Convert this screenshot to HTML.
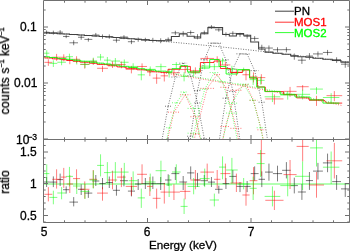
<!DOCTYPE html>
<html><head><meta charset="utf-8"><style>
html,body{margin:0;padding:0;background:#fff;width:350px;height:251px;overflow:hidden}
#w{position:relative;width:350px;height:251px;overflow:hidden}
svg{position:absolute;left:0;top:0}
.t{position:absolute;will-change:transform;font-family:"Liberation Sans",sans-serif;font-size:12px;line-height:1;white-space:nowrap;color:#000;-webkit-text-stroke:0.3px currentColor}
.r{text-align:right}
.c{transform:translateX(-50%)}
.sup{font-size:8.6px;position:relative;top:-4.2px}
.sup2{font-size:7px;position:relative;top:-4.6px}
.rot{transform:translate(-100%,-50%) rotate(-90deg) translate(50%,0);transform-origin:100% 50%}
</style></head><body><div id="w">
<svg width="350" height="251" viewBox="0 0 350 251" shape-rendering="auto">
<defs><clipPath id="ctop"><rect x="43.5" y="0.5" width="306" height="139"/></clipPath><clipPath id="cbot"><rect x="43.5" y="139.5" width="306" height="83"/></clipPath></defs>
<path d="M43.80,32.72 L46.60,32.88 L53.35,33.28 L60.15,33.69 L66.20,34.07 L73.70,34.55 L81.20,35.04 L88.35,35.52 L95.80,36.04 L102.50,36.52 L109.30,37.02 L116.45,37.55 L123.95,38.13 L131.45,38.72 L138.20,39.27 L145.35,39.86 L152.85,40.49 L160.70,41.17 L168.20,41.83 L175.35,42.48 L183.20,43.20 L190.70,43.91 L197.50,44.56 L204.30,45.23 L211.45,45.94 L218.80,46.69 L225.95,47.43 L232.85,48.16 L240.00,48.93 L247.15,49.71 L254.65,50.54 L261.80,51.35 L268.95,52.17 L277.50,53.17 L286.40,54.23 L294.30,55.18 L301.90,56.12 L309.45,57.07 L317.95,58.15 L327.55,59.39 L336.60,60.59 L345.25,61.75 L349.50,62.33" stroke="#000000" stroke-width="1" stroke-opacity="0.55" fill="none" stroke-dasharray="1 1.5" clip-path="url(#ctop)"/>
<path d="M44.40,57.50 L48.35,57.94 L56.60,58.86 L63.75,59.68 L69.80,60.38 L76.55,61.19 L84.75,62.18 L93.25,63.24 L102.50,64.42 L112.50,65.74 L121.40,66.93 L131.40,68.31 L142.05,69.82 L149.85,70.94 L156.65,71.95 L164.30,73.09 L173.95,74.57 L185.15,76.32 L195.40,77.96 L207.20,79.90 L217.20,81.58 L225.40,82.98 L236.40,84.90 L246.00,86.61 L253.50,87.97 L261.35,89.42 L274.40,91.87 L290.05,94.88 L302.65,97.37 L316.50,100.17 L334.35,103.88 L342.20,105.55" stroke="#ff0000" stroke-width="1" stroke-opacity="0.55" fill="none" stroke-dasharray="1 1.5" clip-path="url(#ctop)"/>
<path d="M44.10,56.47 L46.75,56.76 L53.35,57.49 L61.60,58.43 L69.45,59.34 L76.75,60.21 L85.00,61.22 L93.30,62.25 L100.55,63.17 L107.35,64.06 L115.35,65.12 L124.30,66.33 L133.15,67.56 L141.30,68.71 L150.25,70.00 L160.95,71.59 L169.15,72.83 L176.30,73.93 L184.10,75.15 L193.65,76.68 L204.70,78.48 L214.35,80.10 L222.55,81.49 L231.90,83.11 L243.65,85.19 L253.15,86.91 L260.65,88.29 L272.45,90.50 L287.70,93.42 L302.60,96.36 L316.50,99.17 L331.15,102.21 L339.40,103.95" stroke="#00ff00" stroke-width="1" stroke-opacity="0.55" fill="none" stroke-dasharray="1 1.5" clip-path="url(#ctop)"/>
<path d="M165.00,106.23H171.40M171.40,77.06H179.30M179.30,63.20H187.10M187.10,75.96H194.30M194.30,102.89H200.70M200.70,138.68H207.90M160.70,146.85L168.20,106.23M168.20,106.23L175.35,77.06M175.35,77.06L183.20,63.20M183.20,63.20L190.70,75.96M190.70,75.96L197.50,102.89M197.50,102.89L204.30,138.68M204.30,138.68L211.45,182.62" stroke="#000000" stroke-width="1" stroke-opacity="0.55" fill="none" stroke-dasharray="1 1.5" clip-path="url(#ctop)"/>
<path d="M187.10,136.26H194.30M194.30,90.56H200.70M200.70,59.66H207.90M207.90,43.13H215.00M215.00,43.19H222.60M222.60,59.84H229.30M229.30,91.41H236.40M183.20,203.82L190.70,136.26M190.70,136.26L197.50,90.56M197.50,90.56L204.30,59.66M204.30,59.66L211.45,43.13M211.45,43.13L218.80,43.19M218.80,43.19L225.95,59.84M225.95,59.84L232.85,91.41M232.85,91.41L240.00,140.20" stroke="#000000" stroke-width="1" stroke-opacity="0.55" fill="none" stroke-dasharray="1 1.5" clip-path="url(#ctop)"/>
<path d="M222.60,98.20H229.30M229.30,69.01H236.40M236.40,53.84H243.60M243.60,54.00H250.70M250.70,70.65H258.60M258.60,102.23H265.00M218.80,143.51L225.95,98.20M225.95,98.20L232.85,69.01M232.85,69.01L240.00,53.84M240.00,53.84L247.15,54.00M247.15,54.00L254.65,70.65M254.65,70.65L261.80,102.23M261.80,102.23L268.95,149.16" stroke="#000000" stroke-width="1" stroke-opacity="0.55" fill="none" stroke-dasharray="1 1.5" clip-path="url(#ctop)"/>
<path d="M168.00,112.16H179.90M179.90,94.77H190.40M190.40,116.72H200.40M164.30,152.96L173.95,112.16M173.95,112.16L185.15,94.77M185.15,94.77L195.40,116.72M195.40,116.72L207.20,171.71" stroke="#ff0000" stroke-width="1" stroke-opacity="0.55" fill="none" stroke-dasharray="1 1.5" clip-path="url(#ctop)"/>
<path d="M190.40,133.99H200.40M200.40,88.36H214.00M214.00,74.59H220.40M220.40,87.28H230.40M230.40,128.32H242.40M185.15,189.27L195.40,133.99M195.40,133.99L207.20,88.36M207.20,88.36L217.20,74.59M217.20,74.59L225.40,87.28M225.40,87.28L236.40,128.32M236.40,128.32L246.00,178.49" stroke="#ff0000" stroke-width="1" stroke-opacity="0.55" fill="none" stroke-dasharray="1 1.5" clip-path="url(#ctop)"/>
<path d="M220.40,126.53H230.40M230.40,90.31H242.40M242.40,84.61H249.60M249.60,100.31H257.40M257.40,129.80H265.30M217.20,166.42L225.40,126.53M225.40,126.53L236.40,90.31M236.40,90.31L246.00,84.61M246.00,84.61L253.50,100.31M253.50,100.31L261.35,129.80M261.35,129.80L274.40,198.07" stroke="#ff0000" stroke-width="1" stroke-opacity="0.55" fill="none" stroke-dasharray="1 1.5" clip-path="url(#ctop)"/>
<path d="M166.30,127.71H172.00M172.00,102.79H180.60M180.60,92.00H187.60M187.60,108.39H199.70M160.95,168.37L169.15,127.71M169.15,127.71L176.30,102.79M176.30,102.79L184.10,92.00M184.10,92.00L193.65,108.39M193.65,108.39L204.70,155.64" stroke="#00ff00" stroke-width="1" stroke-opacity="0.55" fill="none" stroke-dasharray="1 1.5" clip-path="url(#ctop)"/>
<path d="M187.60,133.19H199.70M199.70,89.21H209.70M209.70,72.58H219.00M219.00,81.91H226.10M226.10,113.06H237.70M184.10,184.62L193.65,133.19M193.65,133.19L204.70,89.21M204.70,89.21L214.35,72.58M214.35,72.58L222.55,81.91M222.55,81.91L231.90,113.06M231.90,113.06L243.65,171.65" stroke="#00ff00" stroke-width="1" stroke-opacity="0.55" fill="none" stroke-dasharray="1 1.5" clip-path="url(#ctop)"/>
<path d="M226.10,103.16H237.70M237.70,84.08H249.60M249.60,100.27H256.70M256.70,127.75H264.60M222.55,140.39L231.90,103.16M231.90,103.16L243.65,84.08M243.65,84.08L253.15,100.27M253.15,100.27L260.65,127.75M260.65,127.75L272.45,187.71" stroke="#00ff00" stroke-width="1" stroke-opacity="0.55" fill="none" stroke-dasharray="1 1.5" clip-path="url(#ctop)"/>
<line x1="43.50" y1="184.00" x2="349.50" y2="184.00" stroke="#00ff00" stroke-width="1.1" stroke-opacity="0.6"/>
<path d="M43.80,32.25L49.40,32.25M46.60,30.46L46.60,34.18M49.40,32.68L57.30,32.68M53.35,30.65L53.35,34.61M57.30,32.18L63.00,32.18M60.15,30.12L60.15,34.59M63.00,36.47L69.40,36.47M66.20,35.12L66.20,38.17M69.40,42.81L78.00,42.81M73.70,40.28L73.70,45.23M78.00,37.27L84.40,37.27M81.20,35.27L81.20,39.78M84.40,39.40L92.30,39.40M88.35,38.05L88.35,41.64M92.30,35.04L99.30,35.04M95.80,32.94L95.80,36.93M99.30,36.48L105.70,36.48M102.50,34.44L102.50,38.75M105.70,36.57L112.90,36.57M109.30,34.42L109.30,38.71M112.90,40.21L120.00,40.21M116.45,38.06L116.45,42.62M120.00,37.02L127.90,37.02M123.95,35.19L123.95,39.18M127.90,41.72L135.00,41.72M131.45,39.62L131.45,44.12M135.00,39.38L141.40,39.38M138.20,37.54L138.20,41.79M141.40,39.82L149.30,39.82M145.35,37.77L145.35,41.96M149.30,40.41L156.40,40.41M152.85,37.85L152.85,42.56M156.40,40.66L165.00,40.66M160.70,38.27L160.70,43.23M165.00,39.43L171.40,39.43M168.20,37.46L168.20,41.69M171.40,32.83L179.30,32.83M175.35,30.78L175.35,35.03M179.30,33.36L187.10,33.36M183.20,31.23L183.20,36.53M187.10,32.50L194.30,32.50M190.70,30.47L190.70,34.68M194.30,36.63L200.70,36.63M197.50,34.20L197.50,39.29M200.70,32.59L207.90,32.59M204.30,30.59L204.30,34.59M207.90,27.00L215.00,27.00M211.45,25.17L211.45,28.89M215.00,29.83L222.60,29.83M218.80,28.38L218.80,31.70M222.60,34.36L229.30,34.36M225.95,32.32L225.95,36.51M229.30,33.37L236.40,33.37M232.85,31.27L232.85,35.70M236.40,34.45L243.60,34.45M240.00,32.80L240.00,36.83M243.60,36.35L250.70,36.35M247.15,34.29L247.15,38.73M250.70,38.43L258.60,38.43M254.65,36.17L254.65,40.89M258.60,47.38L265.00,47.38M261.80,44.72L261.80,50.33M265.00,48.04L272.90,48.04M268.95,45.45L268.95,50.99M272.90,49.73L282.10,49.73M277.50,47.26L277.50,52.44M282.10,49.67L290.70,49.67M286.40,47.21L286.40,52.36M290.70,56.44L297.90,56.44M294.30,53.52L294.30,59.71M297.90,60.19L305.90,60.19M301.90,56.95L301.90,63.92M305.90,56.05L313.00,56.05M309.45,53.11L309.45,59.69M313.00,53.92L322.90,53.92M317.95,51.44L317.95,56.75M322.90,52.44L332.20,52.44M327.55,49.91L327.55,55.27M332.20,59.61L341.00,59.61M336.60,57.29L336.60,62.89M341.00,64.17L349.50,64.17M345.25,61.84L345.25,67.73" stroke="#000000" stroke-width="1" stroke-opacity="0.5" fill="none" clip-path="url(#ctop)"/>
<path d="M43.80,182.00L49.40,182.00M46.60,177.00L46.60,187.00M49.40,182.10L57.30,182.10M53.35,176.40L53.35,187.10M57.30,179.60L63.00,179.60M60.15,173.60L60.15,186.00M63.00,189.70L69.40,189.70M66.20,186.40L66.20,193.60M69.40,202.10L78.00,202.10M73.70,197.10L73.70,206.40M78.00,189.30L84.40,189.30M81.20,184.30L81.20,195.00M84.40,193.10L92.30,193.10M88.35,190.00L88.35,197.90M92.30,181.00L99.30,181.00M95.80,175.00L95.80,186.00M99.30,183.60L105.70,183.60M102.50,178.00L102.50,189.30M105.70,182.50L112.90,182.50M109.30,176.50L109.30,188.00M112.90,190.30L120.00,190.30M116.45,185.00L116.45,195.70M120.00,180.70L127.90,180.70M123.95,175.50L123.95,186.40M127.90,191.10L135.00,191.10M131.45,186.00L131.45,196.40M135.00,184.00L141.40,184.00M138.20,179.00L138.20,190.00M141.40,183.60L149.30,183.60M145.35,178.00L145.35,189.00M149.30,183.60L156.40,183.60M152.85,176.50L152.85,189.00M156.40,183.60L165.00,183.60M160.70,177.00L160.70,190.00M165.00,180.00L171.40,180.00M168.20,174.30L168.20,186.00M171.40,173.60L179.30,173.60M175.35,167.10L175.35,180.00M179.30,182.00L187.10,182.00M183.20,176.00L183.20,190.00M187.10,172.90L194.30,172.90M190.70,166.40L190.70,179.30M194.30,180.00L200.70,180.00M197.50,172.90L197.50,187.00M200.70,180.70L207.90,180.70M204.30,175.00L204.30,186.00M207.90,182.10L215.00,182.10M211.45,177.00L211.45,187.00M215.00,189.30L222.60,189.30M218.80,185.70L218.80,193.60M222.60,183.60L229.30,183.60M225.95,178.00L225.95,189.00M229.30,176.40L236.40,176.40M232.85,170.00L232.85,182.90M236.40,186.40L243.60,186.40M240.00,182.10L240.00,192.10M243.60,186.40L250.70,186.40M247.15,181.00L247.15,192.10M250.70,173.60L258.60,173.60M254.65,166.40L254.65,180.70M258.60,179.30L265.00,179.30M261.80,171.40L261.80,187.10M265.00,172.10L272.90,172.10M268.95,163.60L268.95,180.70M272.90,173.60L282.10,173.60M277.50,165.70L277.50,181.40M282.10,170.30L290.70,170.30M286.40,162.10L286.40,178.40M290.70,185.60L297.90,185.60M294.30,177.70L294.30,193.40M297.90,192.00L305.90,192.00M301.90,184.10L301.90,199.90M305.90,180.60L313.00,180.60M309.45,172.00L309.45,189.90M313.00,171.10L322.90,171.10M317.95,162.90L317.95,179.50M322.90,162.90L332.20,162.90M327.55,153.60L327.55,172.20M332.20,181.60L341.00,181.60M336.60,175.00L336.60,189.90M341.00,188.90L349.50,188.90M345.25,183.00L345.25,196.90" stroke="#000000" stroke-width="1" stroke-opacity="0.5" fill="none" clip-path="url(#cbot)"/>
<path d="M44.40,62.35L52.30,62.35M48.35,59.27L48.35,65.83M52.30,57.24L60.90,57.24M56.60,53.91L56.60,60.80M60.90,57.29L66.60,57.29M63.75,54.30L63.75,61.33M66.60,60.50L73.00,60.50M69.80,57.28L69.80,64.21M73.00,59.32L80.10,59.32M76.55,56.24L76.55,63.13M80.10,64.42L89.40,64.42M84.75,61.33L84.75,68.65M89.40,61.62L97.10,61.62M93.25,58.52L93.25,64.94M97.10,68.30L107.90,68.30M102.50,65.76L102.50,71.96M107.90,64.37L117.10,64.37M112.50,61.23L112.50,67.97M117.10,64.54L125.70,64.54M121.40,61.56L121.40,68.27M125.70,69.36L137.10,69.36M131.40,65.89L131.40,73.38M137.10,66.48L147.00,66.48M142.05,63.36L142.05,69.93M147.00,71.97L152.70,71.97M149.85,68.50L149.85,76.13M152.70,78.12L160.60,78.12M156.65,73.74L156.65,83.82M160.60,75.83L168.00,75.83M164.30,72.10L164.30,81.49M168.00,72.73L179.90,72.73M173.95,69.53L173.95,76.47M179.90,69.53L190.40,69.53M185.15,65.76L185.15,73.22M190.40,70.73L200.40,70.73M195.40,67.37L195.40,74.33M200.40,58.44L214.00,58.44M207.20,55.85L207.20,61.39M214.00,59.38L220.40,59.38M217.20,56.27L217.20,62.94M220.40,64.93L230.40,64.93M225.40,61.85L225.40,68.46M230.40,72.24L242.40,72.24M236.40,68.93L236.40,75.89M242.40,74.74L249.60,74.74M246.00,71.05L246.00,80.28M249.60,76.89L257.40,76.89M253.50,72.38L253.50,82.42M257.40,77.61L265.30,77.61M261.35,74.21L261.35,84.23M265.30,98.93L283.50,98.93M274.40,94.43L274.40,104.51M283.50,91.36L296.60,91.36M290.05,86.92L290.05,96.71M296.60,86.71L308.70,86.71M302.65,85.11L302.65,90.62M309.00,100.40L324.00,100.40M316.50,95.81L316.50,105.92M326.50,95.65L342.20,95.65M334.35,91.08L334.35,101.20" stroke="#ff0000" stroke-width="1" stroke-opacity="0.5" fill="none" clip-path="url(#ctop)"/>
<path d="M44.40,194.30L52.30,194.30M48.35,187.10L48.35,201.40M52.30,179.30L60.90,179.30M56.60,169.30L56.60,188.60M60.90,177.10L66.60,177.10M63.75,167.90L63.75,187.90M66.60,184.00L73.00,184.00M69.80,175.00L69.80,193.00M73.00,178.60L80.10,178.60M76.55,169.30L76.55,188.60M80.10,189.30L89.40,189.30M84.75,181.40L84.75,198.60M89.40,179.30L97.10,179.30M93.25,170.00L93.25,188.00M97.10,193.10L107.90,193.10M102.50,187.10L102.50,200.70M107.90,180.00L117.10,180.00M112.50,170.70L112.50,189.30M117.10,177.10L125.70,177.10M121.40,167.90L121.40,187.10M125.70,186.40L137.10,186.40M131.40,177.00L131.40,195.70M137.10,174.30L147.00,174.30M142.05,164.30L142.05,184.00M147.00,186.40L152.70,186.40M149.85,177.00L149.85,196.00M152.70,198.30L160.60,198.30M156.65,188.60L156.65,208.60M160.60,192.10L168.00,192.10M164.30,182.90L164.30,203.60M168.00,192.10L179.90,192.10M173.95,184.30L173.95,200.00M179.90,191.40L190.40,191.40M185.15,182.00L185.15,199.30M190.40,180.00L200.40,180.00M195.40,170.00L195.40,189.30M200.40,172.10L214.00,172.10M207.20,163.60L207.20,180.70M214.00,179.30L220.40,179.30M217.20,170.00L217.20,188.60M220.40,173.60L230.40,173.60M225.40,163.60L225.40,183.60M230.40,183.00L242.40,183.00M236.40,173.60L236.40,192.00M242.40,195.00L249.60,195.00M246.00,186.40L246.00,205.70M249.60,180.70L257.40,180.70M253.50,167.10L253.50,194.30M257.40,153.60L265.30,153.60M261.35,139.50L261.35,176.00M265.30,200.30L283.50,200.30M274.40,190.70L274.40,210.00M283.50,174.60L296.60,174.60M290.05,160.00L290.05,189.00M296.60,146.40L308.70,146.40M302.65,139.50L302.65,161.40M309.00,185.00L324.00,185.00M316.50,172.00L316.50,197.70M326.50,160.80L342.20,160.80M334.35,142.90L334.35,178.50" stroke="#ff0000" stroke-width="1" stroke-opacity="0.5" fill="none" clip-path="url(#cbot)"/>
<path d="M44.10,53.19L49.40,53.19M46.75,50.31L46.75,56.50M49.40,63.37L57.30,63.37M53.35,60.32L53.35,66.97M57.30,62.26L65.90,62.26M61.60,59.76L61.60,65.24M65.90,56.71L73.00,56.71M69.45,53.66L69.45,60.39M73.00,61.11L80.50,61.11M76.75,58.49L76.75,64.49M80.50,64.34L89.50,64.34M85.00,61.33L85.00,67.88M89.50,60.88L97.10,60.88M93.30,57.68L93.30,64.19M97.10,57.05L104.00,57.05M100.55,53.96L100.55,60.54M104.00,60.16L110.70,60.16M107.35,56.97L107.35,64.02M110.70,61.06L120.00,61.06M115.35,58.03L115.35,64.52M120.00,62.27L128.60,62.27M124.30,59.47L124.30,66.29M128.60,66.44L137.70,66.44M133.15,63.27L133.15,70.08M137.70,74.83L144.90,74.83M141.30,70.65L141.30,80.30M144.90,69.34L155.60,69.34M150.25,66.41L150.25,73.10M155.60,66.63L166.30,66.63M160.95,63.66L160.95,70.54M166.30,72.40L172.00,72.40M169.15,68.79L169.15,77.58M172.00,64.51L180.60,64.51M176.30,62.15L176.30,68.56M180.60,76.39L187.60,76.39M184.10,72.17L184.10,81.35M187.60,72.95L199.70,72.95M193.65,69.82L193.65,76.32M199.70,66.13L209.70,66.13M204.70,62.84L204.70,69.33M209.70,66.67L219.00,66.67M214.35,63.60L214.35,70.19M219.00,60.88L226.10,60.88M222.55,57.84L222.55,64.88M226.10,69.27L237.70,69.27M231.90,65.75L231.90,73.96M237.70,69.82L249.60,69.82M243.65,67.62L243.65,71.93M249.60,79.62L256.70,79.62M253.15,75.24L253.15,84.97M256.70,80.35L264.60,80.35M260.65,76.69L260.65,84.57M264.60,96.80L280.30,96.80M272.45,92.45L272.45,102.09M280.30,95.04L295.10,95.04M287.70,91.16L287.70,99.65M295.10,94.33L310.10,94.33M302.60,89.72L302.60,99.53M310.10,89.08L322.90,89.08M316.50,87.11L316.50,94.10M322.90,97.51L339.40,97.51M331.15,93.17L331.15,103.22" stroke="#00ff00" stroke-width="1" stroke-opacity="0.5" fill="none" clip-path="url(#ctop)"/>
<path d="M44.10,173.60L49.40,173.60M46.75,164.30L46.75,183.00M49.40,197.40L57.30,197.40M53.35,190.70L53.35,204.30M57.30,193.00L65.90,193.00M61.60,187.10L61.60,199.30M65.90,176.40L73.00,176.40M69.45,166.90L69.45,186.40M73.00,186.00L80.50,186.00M76.75,179.00L76.75,194.00M80.50,191.40L89.50,191.40M85.00,184.00L85.00,199.00M89.50,180.00L97.10,180.00M93.30,170.50L93.30,188.60M97.10,165.40L104.00,165.40M100.55,154.30L100.55,176.40M104.00,172.60L110.70,172.60M107.35,162.10L107.35,183.60M110.70,172.10L120.00,172.10M115.35,162.10L115.35,182.10M120.00,172.10L128.60,172.10M124.30,162.90L124.30,183.60M128.60,180.70L137.70,180.70M133.15,171.40L133.15,190.00M137.70,197.90L144.90,197.90M141.30,188.60L141.30,207.90M144.90,182.00L155.60,182.00M150.25,173.60L150.25,191.40M155.60,170.70L166.30,170.70M160.95,160.70L160.95,182.10M166.30,185.00L172.00,185.00M169.15,175.00L169.15,197.00M172.00,172.00L180.60,172.00M176.30,164.30L176.30,183.60M180.60,206.40L187.60,206.40M184.10,198.60L184.10,214.00M187.60,186.40L199.70,186.40M193.65,178.00L193.65,194.30M199.70,178.60L209.70,178.60M204.70,168.60L204.70,187.10M209.70,200.00L219.00,200.00M214.35,193.60L214.35,206.40M219.00,167.10L226.10,167.10M222.55,156.40L222.55,179.30M226.10,170.00L237.70,170.00M231.90,157.90L231.90,183.60M237.70,184.00L249.60,184.00M243.65,178.00L243.65,189.30M249.60,188.30L256.70,188.30M253.15,176.60L253.15,200.00M256.70,163.60L264.60,163.60M260.65,150.00L260.65,177.00M264.60,196.40L280.30,196.40M272.45,186.40L272.45,206.40M280.30,185.60L295.10,185.60M287.70,174.90L287.70,196.30M295.10,176.30L310.10,176.30M302.60,161.40L302.60,190.00M310.10,147.90L322.90,147.90M316.50,139.50L316.50,166.50M322.90,167.20L339.40,167.20M331.15,151.50L331.15,184.00" stroke="#00ff00" stroke-width="1" stroke-opacity="0.5" fill="none" clip-path="url(#cbot)"/>
<path d="M43.80,32.88 L49.40,32.88 L49.40,33.28 L57.30,33.28 L57.30,33.69 L63.00,33.69 L63.00,34.07 L69.40,34.07 L69.40,34.55 L78.00,34.55 L78.00,35.04 L84.40,35.04 L84.40,35.52 L92.30,35.52 L92.30,36.04 L99.30,36.04 L99.30,36.52 L105.70,36.52 L105.70,37.02 L112.90,37.02 L112.90,37.55 L120.00,37.55 L120.00,38.13 L127.90,38.13 L127.90,38.72 L135.00,38.72 L135.00,39.27 L141.40,39.27 L141.40,39.85 L149.30,39.85 L149.30,40.45 L156.40,40.45 L156.40,40.70 L165.00,40.70 L165.00,40.80 L171.40,40.80 L171.40,36.40 L179.30,36.40 L179.30,34.00 L187.10,34.00 L187.10,36.30 L194.30,36.30 L194.30,38.00 L200.70,38.00 L200.70,33.70 L207.90,33.70 L207.90,27.60 L215.00,27.60 L215.00,27.60 L222.60,27.60 L222.60,34.40 L229.30,34.40 L229.30,36.00 L236.40,36.00 L236.40,33.40 L243.60,33.40 L243.60,35.30 L250.70,35.30 L250.70,42.00 L258.60,42.00 L258.60,49.00 L265.00,49.00 L265.00,52.10 L272.90,52.10 L272.90,53.30 L282.10,53.30 L282.10,54.30 L290.70,54.30 L290.70,55.70 L297.90,55.70 L297.90,56.80 L305.90,56.80 L305.90,57.20 L313.00,57.20 L313.00,58.30 L322.90,58.30 L322.90,59.30 L332.20,59.30 L332.20,60.40 L341.00,60.40 L341.00,62.10 L349.50,62.10" stroke="#404040" stroke-width="1.05" fill="none" clip-path="url(#ctop)"/>
<path d="M44.40,57.94 L52.30,57.94 L52.30,58.86 L60.90,58.86 L60.90,59.68 L66.60,59.68 L66.60,60.38 L73.00,60.38 L73.00,61.19 L80.10,61.19 L80.10,62.18 L89.40,62.18 L89.40,63.24 L97.10,63.24 L97.10,64.42 L107.90,64.42 L107.90,65.74 L117.10,65.74 L117.10,66.93 L125.70,66.93 L125.70,68.31 L137.10,68.31 L137.10,69.81 L147.00,69.81 L147.00,70.92 L152.70,70.92 L152.70,71.80 L160.60,71.80 L160.60,72.40 L168.00,72.40 L168.00,69.30 L179.90,69.30 L179.90,66.40 L190.40,66.40 L190.40,72.10 L200.40,72.10 L200.40,62.50 L214.00,62.50 L214.00,61.00 L220.40,61.00 L220.40,68.50 L230.40,68.50 L230.40,72.50 L242.40,72.50 L242.40,70.00 L249.60,70.00 L249.60,78.00 L257.40,78.00 L257.40,87.00 L265.30,87.00 L265.30,91.60 L283.50,91.60 L283.50,94.60 L296.60,94.60 L296.60,97.90 L308.70,97.90 L309.00,99.90 L324.00,99.90 L326.50,103.10 L342.20,103.10" stroke="#ff0000" stroke-width="1" stroke-opacity="0.8" fill="none" clip-path="url(#ctop)"/>
<path d="M44.10,56.76 L49.40,56.76 L49.40,57.49 L57.30,57.49 L57.30,58.43 L65.90,58.43 L65.90,59.34 L73.00,59.34 L73.00,60.21 L80.50,60.21 L80.50,61.22 L89.50,61.22 L89.50,62.25 L97.10,62.25 L97.10,63.17 L104.00,63.17 L104.00,64.06 L110.70,64.06 L110.70,65.12 L120.00,65.12 L120.00,66.33 L128.60,66.33 L128.60,67.56 L137.70,67.56 L137.70,68.71 L144.90,68.71 L144.90,69.98 L155.60,69.98 L155.60,71.14 L166.30,71.14 L166.30,71.90 L172.00,71.90 L172.00,68.60 L180.60,68.60 L180.60,65.70 L187.60,65.70 L187.60,71.90 L199.70,71.90 L199.70,68.00 L209.70,68.00 L209.70,59.50 L219.00,59.50 L219.00,66.50 L226.10,66.50 L226.10,74.00 L237.70,74.00 L237.70,69.70 L249.60,69.70 L249.60,77.80 L256.70,77.80 L256.70,87.00 L264.60,87.00 L264.60,91.40 L280.30,91.40 L280.30,94.30 L295.10,94.30 L295.10,97.00 L310.10,97.00 L310.10,99.90 L322.90,99.90 L322.90,103.10 L339.40,103.10" stroke="#00ff00" stroke-width="1" stroke-opacity="0.8" fill="none" clip-path="url(#ctop)"/>
<path d="M43.5,0.5H349.5V222.5H43.5Z M43.5,139.5H349.5" stroke="#707070" stroke-width="1" fill="none"/>
<path d="M64.5,0.5v2.2M64.5,139.5v-2.2M64.5,139.5v2.2M64.5,222.5v-2.2M85.0,0.5v2.2M85.0,139.5v-2.2M85.0,139.5v2.2M85.0,222.5v-2.2M106.0,0.5v2.2M106.0,139.5v-2.2M106.0,139.5v2.2M106.0,222.5v-2.2M126.5,0.5v2.2M126.5,139.5v-2.2M126.5,139.5v2.2M126.5,222.5v-2.2M147.5,0.5v4.5M147.5,139.5v-4.5M147.5,139.5v4.5M147.5,222.5v-4.5M168.0,0.5v2.2M168.0,139.5v-2.2M168.0,139.5v2.2M168.0,222.5v-2.2M188.5,0.5v2.2M188.5,139.5v-2.2M188.5,139.5v2.2M188.5,222.5v-2.2M209.5,0.5v2.2M209.5,139.5v-2.2M209.5,139.5v2.2M209.5,222.5v-2.2M230.0,0.5v2.2M230.0,139.5v-2.2M230.0,139.5v2.2M230.0,222.5v-2.2M251.0,0.5v4.5M251.0,139.5v-4.5M251.0,139.5v4.5M251.0,222.5v-4.5M271.5,0.5v2.2M271.5,139.5v-2.2M271.5,139.5v2.2M271.5,222.5v-2.2M292.0,0.5v2.2M292.0,139.5v-2.2M292.0,139.5v2.2M292.0,222.5v-2.2M313.0,0.5v2.2M313.0,139.5v-2.2M313.0,139.5v2.2M313.0,222.5v-2.2M333.5,0.5v2.2M333.5,139.5v-2.2M333.5,139.5v2.2M333.5,222.5v-2.2M43.5,139.0h4.5M349.5,139.0h-4.5M43.5,122.0h2.2M349.5,122.0h-2.2M43.5,112.5h2.2M349.5,112.5h-2.2M43.5,105.5h2.2M349.5,105.5h-2.2M43.5,100.0h2.2M349.5,100.0h-2.2M43.5,95.5h2.2M349.5,95.5h-2.2M43.5,91.5h2.2M349.5,91.5h-2.2M43.5,88.5h2.2M349.5,88.5h-2.2M43.5,85.5h2.2M349.5,85.5h-2.2M43.5,83.0h4.5M349.5,83.0h-4.5M43.5,66.0h2.2M349.5,66.0h-2.2M43.5,56.5h2.2M349.5,56.5h-2.2M43.5,49.5h2.2M349.5,49.5h-2.2M43.5,44.0h2.2M349.5,44.0h-2.2M43.5,39.5h2.2M349.5,39.5h-2.2M43.5,35.5h2.2M349.5,35.5h-2.2M43.5,32.5h2.2M349.5,32.5h-2.2M43.5,29.5h2.2M349.5,29.5h-2.2M43.5,27.0h4.5M349.5,27.0h-4.5M43.5,10.0h2.2M349.5,10.0h-2.2M43.5,222.0h2.2M349.5,222.0h-2.2M43.5,215.5h4.5M349.5,215.5h-4.5M43.5,209.0h2.2M349.5,209.0h-2.2M43.5,203.0h2.2M349.5,203.0h-2.2M43.5,196.5h2.2M349.5,196.5h-2.2M43.5,190.0h2.2M349.5,190.0h-2.2M43.5,183.5h4.5M349.5,183.5h-4.5M43.5,177.5h2.2M349.5,177.5h-2.2M43.5,171.0h2.2M349.5,171.0h-2.2M43.5,164.5h2.2M349.5,164.5h-2.2M43.5,158.0h2.2M349.5,158.0h-2.2M43.5,152.0h4.5M349.5,152.0h-4.5M43.5,145.5h2.2M349.5,145.5h-2.2" stroke="#707070" stroke-width="1" fill="none"/>
<line x1="275" y1="11.2" x2="294" y2="11.2" stroke="#404040" stroke-width="1"/>
<line x1="275" y1="22.2" x2="294" y2="22.2" stroke="#ff0000" stroke-width="1" stroke-opacity="0.8"/>
<line x1="275" y1="32.6" x2="294" y2="32.6" stroke="#00ff00" stroke-width="1" stroke-opacity="0.8"/>
</svg>

<div class="t" style="left:293.8px;top:5.6px;font-size:11.5px;color:#000">PN</div>
<div class="t" style="left:293.8px;top:16.8px;font-size:11.5px;color:#f00">MOS1</div>
<div class="t" style="left:293.8px;top:27.5px;font-size:11.5px;color:#0f0">MOS2</div>
<div class="t r" style="right:313px;top:21px">0.1</div>
<div class="t r" style="right:313px;top:77px">0.01</div>
<div class="t r" style="right:313.2px;top:133.6px">10<span class="sup" style="margin-left:-2.2px">&minus;3</span></div>
<div class="t r" style="right:313px;top:146px">1.5</div>
<div class="t r" style="right:313px;top:177.5px">1</div>
<div class="t r" style="right:313px;top:210.2px">0.5</div>
<div class="t c" style="left:43.5px;top:226.1px">5</div>
<div class="t c" style="left:147.3px;top:226.1px">6</div>
<div class="t c" style="left:250.8px;top:226.1px">7</div>
<div class="t" style="left:149.3px;top:239.4px;font-size:11.65px">Energy (keV)</div>
<div class="t rot" style="left:5.3px;top:70.6px"><span style="letter-spacing:0.35px">counts</span> s<span class="sup2">&minus;1</span> keV<span class="sup2">&minus;1</span></div>
<div class="t rot" style="left:5.3px;top:181.6px">ratio</div>

</div></body></html>
